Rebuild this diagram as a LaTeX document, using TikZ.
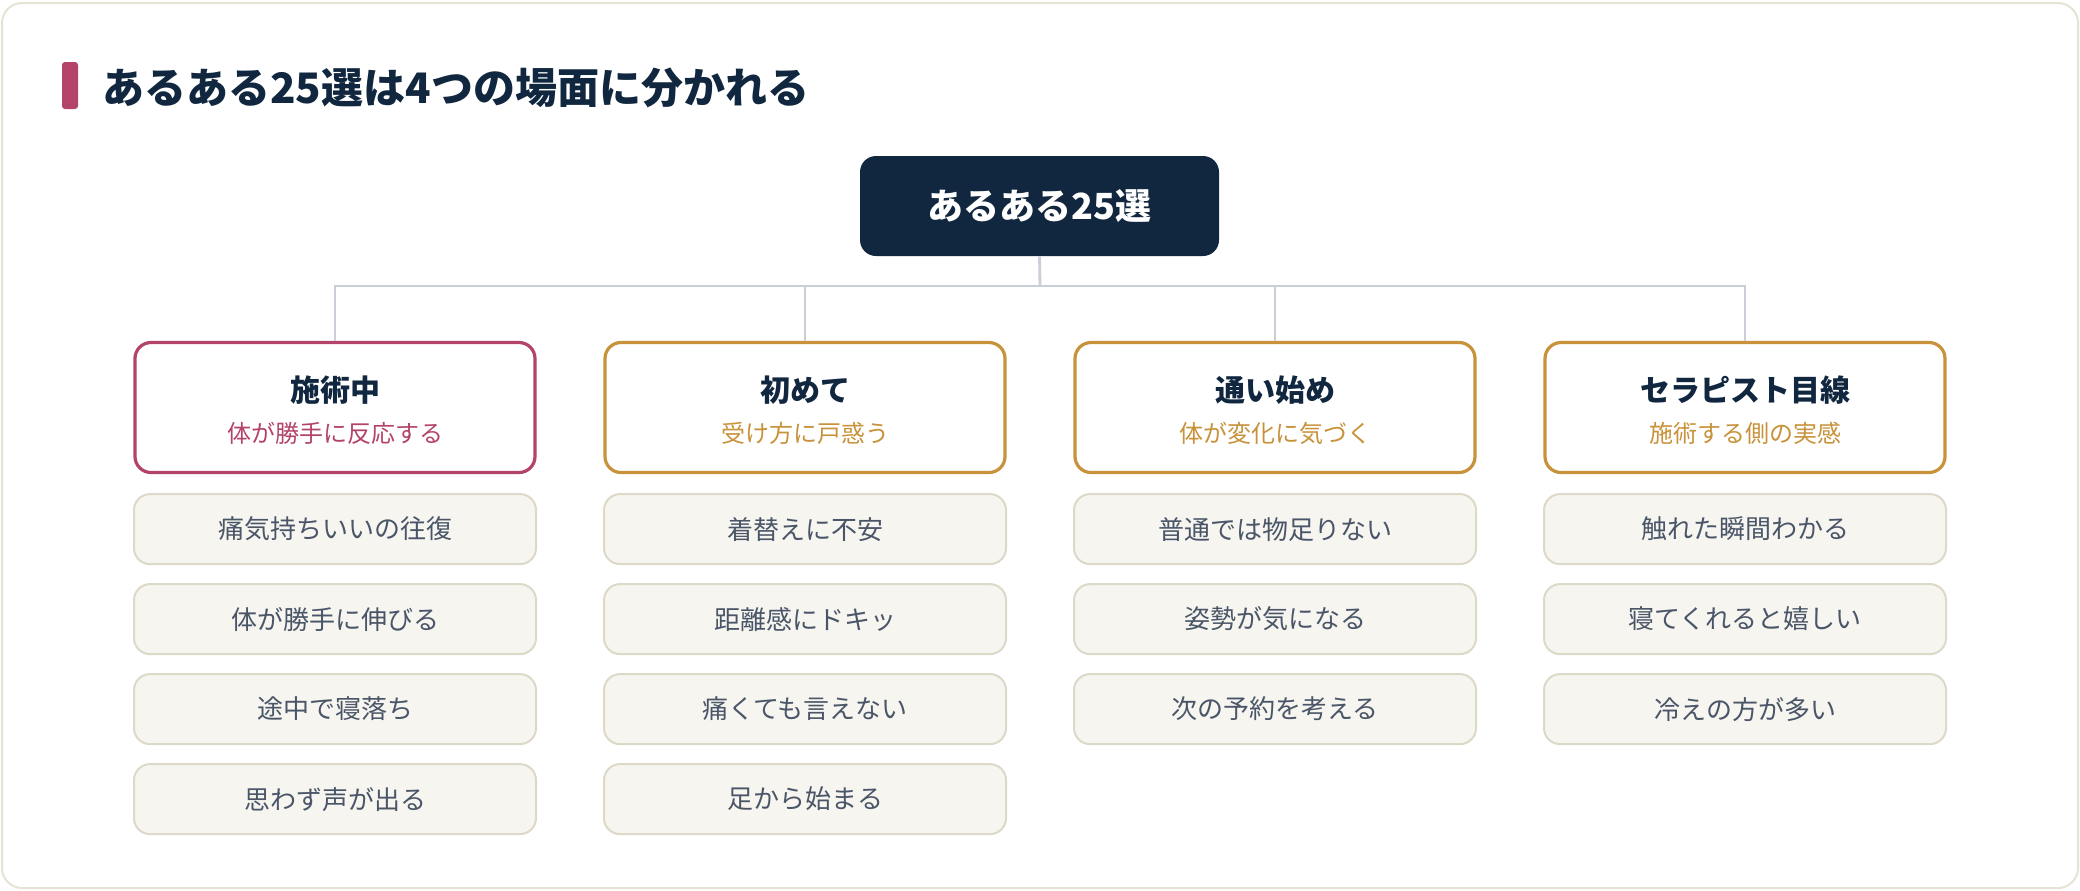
\documentclass[tikz,border=0pt]{standalone}
\usepackage{fontspec}
\setmainfont{Noto Sans CJK JP}
\usepackage{xcolor}
\usetikzlibrary{positioning}

\definecolor{navy}{HTML}{10273F}
\definecolor{rose}{HTML}{B4436A}
\definecolor{gold}{HTML}{C8923A}
\definecolor{linkgray}{HTML}{C9CED8}
\definecolor{paper}{HTML}{F6F5F0}
\definecolor{paperline}{HTML}{DDD9C8}
\definecolor{frameline}{HTML}{E6E3D5}
\definecolor{slate}{HTML}{4A5668}

\tikzset{
  catbox/.style={draw, line width=1.6pt, rounded corners=8pt, fill=white,
    minimum width=200pt, minimum height=65pt, inner sep=0pt},
  cattitle/.style={font=\fontsize{15pt}{18pt}\selectfont\bfseries, text=navy, inner sep=0pt},
  catsub/.style={font=\fontsize{12pt}{14pt}\selectfont, inner sep=0pt},
  itembox/.style={draw=paperline, line width=1pt, rounded corners=8pt, fill=paper,
    minimum width=201pt, minimum height=35pt, inner sep=0pt, text=slate,
    font=\fontsize{13pt}{16pt}\selectfont},
  link/.style={draw=linkgray, line width=1.4pt},
}

\begin{document}
\begin{tikzpicture}[x=0.5pt,y=-0.5pt]
\useasboundingbox (0,0) rectangle (2080,890);
\draw[frameline, line width=1pt, rounded corners=10pt, fill=white] (2,3) rectangle (2078,888); % outer card

% heading
\fill[rose, rounded corners=1.5pt] (62,62) rectangle (78,109);
\node[anchor=west, inner sep=0pt, text=navy, font=\fontsize{21pt}{25pt}\selectfont\bfseries] (heading) at (102,88) {あるある25選は4つの場面に分かれる};

% root
\node[fill=navy, rounded corners=8pt, minimum width=179.5pt, minimum height=50pt, text=white,
  font=\fontsize{18pt}{22pt}\selectfont\bfseries] (root) at (1039.5,206) {あるある25選};

% categories
\node[catbox, draw=rose] (cat1) at (335,407.5) {};
\node[catbox, draw=gold] (cat2) at (805,407.5) {};
\node[catbox, draw=gold] (cat3) at (1275,407.5) {};
\node[catbox, draw=gold] (cat4) at (1745,407.5) {};

\node[cattitle] (t1) at ([yshift=8.75pt]cat1.center) {施術中};
\node[catsub, text=rose] (s1) at ([yshift=-13pt]cat1.center) {体が勝手に反応する};
\node[cattitle] (t2) at ([yshift=8.75pt]cat2.center) {初めて};
\node[catsub, text=gold] (s2) at ([yshift=-13pt]cat2.center) {受け方に戸惑う};
\node[cattitle] (t3) at ([yshift=8.75pt]cat3.center) {通い始め};
\node[catsub, text=gold] (s3) at ([yshift=-13pt]cat3.center) {体が変化に気づく};
\node[cattitle] (t4) at ([yshift=8.75pt]cat4.center) {セラピスト目線};
\node[catsub, text=gold] (s4) at ([yshift=-13pt]cat4.center) {施術する側の実感};

% tree lines
\coordinate (bus) at (1040,286);
\draw[link] (root.south) -- (bus);
\draw[link] (cat1.north) -- (cat1.north |- bus) -- (cat4.north |- bus) -- (cat4.north);
\draw[link] (cat2.north) -- (cat2.north |- bus);
\draw[link] (cat3.north) -- (cat3.north |- bus);

% items
\node[itembox, below=9.5pt of cat1] (i11) {痛気持ちいいの往復};
\node[itembox, below=9pt of i11] (i12) {体が勝手に伸びる};
\node[itembox, below=9pt of i12] (i13) {途中で寝落ち};
\node[itembox, below=9pt of i13] (i14) {思わず声が出る};

\node[itembox, below=9.5pt of cat2] (i21) {着替えに不安};
\node[itembox, below=9pt of i21] (i22) {距離感にドキッ};
\node[itembox, below=9pt of i22] (i23) {痛くても言えない};
\node[itembox, below=9pt of i23] (i24) {足から始まる};

\node[itembox, below=9.5pt of cat3] (i31) {普通では物足りない};
\node[itembox, below=9pt of i31] (i32) {姿勢が気になる};
\node[itembox, below=9pt of i32] (i33) {次の予約を考える};

\node[itembox, below=9.5pt of cat4] (i41) {触れた瞬間わかる};
\node[itembox, below=9pt of i41] (i42) {寝てくれると嬉しい};
\node[itembox, below=9pt of i42] (i43) {冷えの方が多い};
\end{tikzpicture}
\end{document}
